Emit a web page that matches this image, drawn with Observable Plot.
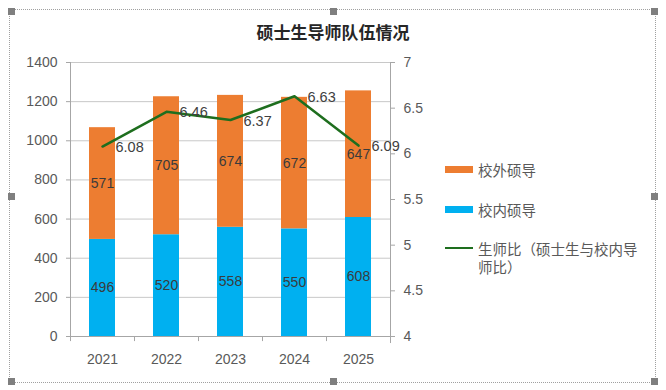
<!DOCTYPE html>
<html>
<head>
<meta charset="utf-8">
<script src="https://cdn.jsdelivr.net/npm/d3@7"></script>
<script src="https://cdn.jsdelivr.net/npm/@observablehq/plot@0.6"></script>
<style>
  html, body { margin: 0; padding: 0; background: #fff; }
  #wrap { position: relative; width: 666px; height: 390px; overflow: hidden;
          font-family: "Liberation Sans", "Noto Sans CJK SC", sans-serif; }
  #wrap svg { position: absolute; left: 0; top: 0; }
  #border { position: absolute; left: 9px; top: 9px; width: 647px; height: 374px;
            border: 1px dotted #a0a0a0; box-sizing: border-box; }
  .h { position: absolute; width: 7px; height: 7px; background: #7f7f7f; }
  #title { position: absolute; left: 0; width: 666px; top: 19px; text-align: center;
           font-family: "Noto Sans CJK SC", sans-serif; font-size: 17px; font-weight: bold; color: #262626; }
  .leg { position: absolute; left: 445px; font-family: "Noto Sans CJK SC", sans-serif;
         font-size: 14.5px; color: #595959; line-height: 18px; }
  .sw { position: absolute; left: 0; width: 28px; }
  .lt { position: absolute; left: 33px; width: 168px; }
</style>
</head>
<body>
<div id="wrap"></div>
<script>
const years = ["2021", "2022", "2023", "2024", "2025"];
const internal = [496, 520, 558, 550, 608];
const external = [571, 705, 674, 672, 647];
const ratio = [6.08, 6.46, 6.37, 6.63, 6.09];
const leftTicks = [0, 200, 400, 600, 800, 1000, 1200, 1400];
const rightTicks = [4, 4.5, 5, 5.5, 6, 6.5, 7];
const seriesNames = ["校内硕导", "校外硕导"];
const lineName = "生师比（硕士生与校内导师比）";
const title = "硕士生导师队伍情况";

const colors = { "校内硕导": "#00B0F0", "校外硕导": "#ED7D31" };
const green = "#1E6E1E";

const rows = [];
years.forEach((y, i) => {
  rows.push({ year: y, type: seriesNames[0], value: internal[i] });
  rows.push({ year: y, type: seriesNames[1], value: external[i] });
});
const ratioRows = years.map((y, i) => ({ year: y, r: ratio[i] }));

const common = {
  width: 666, height: 390,
  marginLeft: 70, marginRight: 276, marginTop: 62, marginBottom: 54,
  style: { fontFamily: "Liberation Sans, Noto Sans CJK SC, sans-serif", fontSize: "14px", color: "#595959", background: "transparent", overflow: "visible" }
};
const xOpt = { type: "band", domain: years, paddingInner: 0.6, paddingOuter: 0.3, axis: null };
const half = 32;
const axisGray = "#a6a6a6";

const p1 = Plot.plot({
  ...common,
  x: xOpt,
  y: { domain: [0, 1400], axis: null, label: null },
  color: { domain: seriesNames, range: seriesNames.map(s => colors[s]) },
  marks: [
    Plot.gridY(leftTicks, { stroke: "#c8c8c8", strokeOpacity: 1 }),
    Plot.barY(rows, { x: "year", y: "value", fill: "type", order: seriesNames }),
    Plot.text(rows, Plot.stackY({ x: "year", y: "value", z: "type", order: seriesNames, text: d => String(d.value), fill: "#3b3b3b", fontSize: 14 })),
    Plot.ruleY([0], { stroke: axisGray }),
    Plot.ruleX(years, { x: d => d, dx: -half, y1: 0, y2: -26, stroke: axisGray }),
    Plot.ruleX([years[0]], { x: d => d, dx: -half, y1: 0, y2: 1400, stroke: axisGray }),
    Plot.ruleX([years[years.length - 1]], { x: d => d, dx: half, y1: -36, y2: 1400, stroke: axisGray }),
    Plot.axisY({ anchor: "left", label: null, ticks: leftTicks, tickSize: 4, tickPadding: 9, stroke: axisGray, fill: "#595959", fontSize: 14, tickFormat: d => String(d) }),
    Plot.text(years, { x: d => d, y: 0, dy: 23, text: d => d, fill: "#595959", fontSize: 14 })
  ]
});

const p2 = Plot.plot({
  ...common,
  x: xOpt,
  y: { domain: [4, 7], axis: null, label: null },
  marks: [
    Plot.axisY({ anchor: "right", label: null, ticks: rightTicks, tickSize: 4, tickPadding: 9, stroke: axisGray, fill: "#595959", fontSize: 14, tickFormat: d => String(d) }),
    Plot.lineY(ratioRows, { x: "year", y: "r", stroke: green, strokeWidth: 2.5 }),
    Plot.text(ratioRows, { x: "year", y: "r", text: d => d.r.toFixed(2), dx: 13, dy: 1, textAnchor: "start", fill: "#404040", fontSize: 14.5 })
  ]
});

const wrap = document.getElementById("wrap");
wrap.appendChild(p1);
wrap.appendChild(p2);

const border = document.createElement("div");
border.id = "border";
wrap.appendChild(border);
[[8, 8], [330, 8], [651, 8], [8, 193], [651, 193], [8, 378], [330, 378], [651, 378]].forEach(([l, t]) => {
  const h = document.createElement("div");
  h.className = "h"; h.style.left = l + "px"; h.style.top = t + "px";
  wrap.appendChild(h);
});

const t = document.createElement("div");
t.id = "title"; t.textContent = title;
wrap.appendChild(t);

function legend(top, swatchTop, swatchH, color, text) {
  const d = document.createElement("div");
  d.className = "leg"; d.style.top = top + "px";
  const s = document.createElement("div");
  s.className = "sw"; s.style.top = swatchTop + "px"; s.style.height = swatchH + "px"; s.style.background = color;
  const l = document.createElement("div");
  l.className = "lt"; l.textContent = text;
  d.appendChild(s); d.appendChild(l);
  wrap.appendChild(d);
}
legend(161, 5, 7, colors[seriesNames[1]], seriesNames[1]);
legend(201, 5, 7, colors[seriesNames[0]], seriesNames[0]);
legend(240, 7, 2, green, lineName);
</script>
</body>
</html>
